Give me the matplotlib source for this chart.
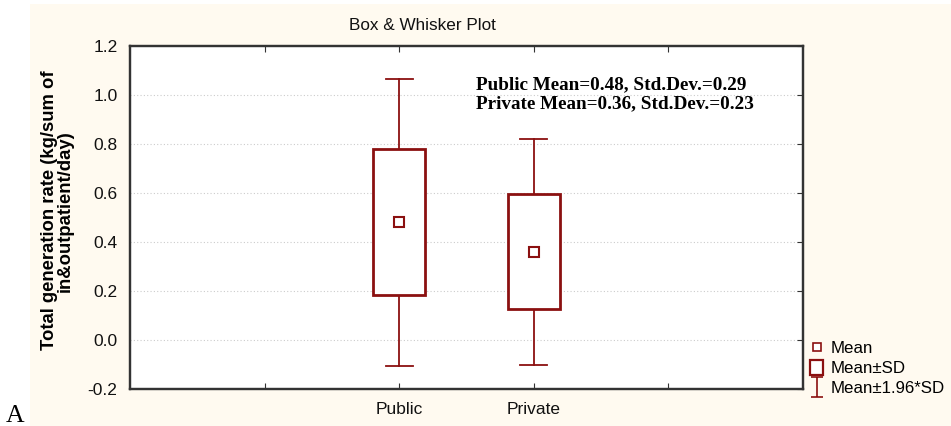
import matplotlib
matplotlib.use("Agg")
import matplotlib.pyplot as plt
from matplotlib.patches import Rectangle, Patch
from matplotlib.lines import Line2D
from matplotlib.path import Path

# data
groups = ["Public", "Private"]
means = [0.48, 0.36]
sd_low = [0.183, 0.125]
sd_high = [0.78, 0.596]
ci_low = [-0.105, -0.10]
ci_high = [1.065, 0.822]
stats_text = ["Public Mean=0.48, Std.Dev.=0.29",
              "Private Mean=0.36, Std.Dev.=0.23"]

red = "#8b1010"
cream = "#fffaf0"

plt.rcParams["font.family"] = ["Liberation Sans", "DejaVu Sans"]

fig = plt.figure(figsize=(9.51, 4.26), dpi=100, facecolor="white")
fig.add_artist(Rectangle((30 / 951, 0), 1, 1 - 4 / 426, transform=fig.transFigure,
                         facecolor=cream, edgecolor="none", zorder=-10))
ax = fig.add_axes([130 / 951, 1 - 389 / 426, 673 / 951, 343 / 426])
ax.set_facecolor("white")

pos = [2, 3]
box_w = 0.39
cap_w = 0.2
for x, m, lo, hi, wlo, whi in zip(pos, means, sd_low, sd_high, ci_low, ci_high):
    ax.plot([x, x], [hi, whi], color=red, lw=1.3, zorder=3)
    ax.plot([x, x], [wlo, lo], color=red, lw=1.3, zorder=3)
    ax.plot([x - cap_w / 2, x + cap_w / 2], [whi, whi], color=red, lw=1.3, zorder=3)
    ax.plot([x - cap_w / 2, x + cap_w / 2], [wlo, wlo], color=red, lw=1.3, zorder=3)
    ax.add_patch(Rectangle((x - box_w / 2, lo), box_w, hi - lo, facecolor="white",
                           edgecolor=red, lw=2, zorder=4))
    ax.plot([x], [m], marker="s", ms=6.5, mfc="white", mec=red, mew=1.5, ls="none", zorder=5)

ax.set_xlim(0, 5)
ax.set_ylim(-0.2, 1.2)
ax.set_yticks([-0.2, 0.0, 0.2, 0.4, 0.6, 0.8, 1.0, 1.2])
ax.set_yticklabels(["-0.2", "0.0", "0.2", "0.4", "0.6", "0.8", "1.0", "1.2"], fontsize=12.5)
ax.set_xticks([1, 2, 3, 4])
ax.set_xticklabels(["", groups[0], groups[1], ""], fontsize=12.5)
ax.tick_params(axis="x", direction="in", length=4, top=True, pad=9, colors="#333333",
               labelcolor="#111111")
ax.tick_params(axis="y", direction="in", length=0, right=False, pad=9, labelcolor="#111111")
for yv in [0.0, 0.2, 0.4, 0.6, 0.8, 1.0]:
    ax.axhline(yv, color="#cccccc", lw=0.8, ls=(0, (1, 2)), zorder=1)
# right spine ticks
axr = ax.twinx()
axr.set_ylim(ax.get_ylim())
axr.set_yticks(ax.get_yticks())
axr.set_yticklabels([])
axr.tick_params(axis="y", direction="in", length=4, colors="#333333")
for a in (ax, axr):
    for s in a.spines.values():
        s.set_color("#333333")
        s.set_linewidth(1.6)

ax.set_ylabel("Total generation rate (kg/sum of\nin&outpatient/day)", fontsize=13.3,
              fontweight="bold", linespacing=0.95)
ax.yaxis.set_label_coords(-56 / 673, 0.52)
fig.text(422 / 951, 1 - 25 / 426, "Box & Whisker Plot", ha="center", va="center",
         fontsize=12.3, color="#111111")

ax.text(0.514, 0.859, stats_text[0] + "\n" + stats_text[1], transform=ax.transAxes,
        family=["Liberation Serif", "DejaVu Serif"], fontweight="bold", fontsize=13.8,
        va="center", ha="left", linespacing=1.2, zorder=6)

ibar = Path([(-0.6, 1), (0.6, 1), (0, 1), (0, -1), (-0.6, -1), (0.6, -1)],
            [Path.MOVETO, Path.LINETO, Path.MOVETO, Path.LINETO, Path.MOVETO, Path.LINETO])
handles = [
    Line2D([], [], marker="s", ms=6, mfc="white", mec=red, mew=1.2, ls="none"),
    Patch(facecolor="white", edgecolor=red, lw=1.6),
    Line2D([], [], marker=ibar, ms=15, mec=red, mew=1.2, ls="none"),
]
fig.legend(handles, ["Mean", "Mean±SD", "Mean±1.96*SD"], loc="upper left",
           bbox_to_anchor=(798 / 951, 1 - 328 / 426), frameon=False, fontsize=12.2,
           handlelength=0.8, handleheight=1.0, handletextpad=0.4, labelspacing=0.22,
           borderpad=0.2)

fig.text(6 / 951, 1 - 422 / 426, "A", family=["Liberation Serif", "DejaVu Serif"],
         fontsize=18.5, va="baseline", ha="left")

fig.savefig("out.png", dpi=100, facecolor=fig.get_facecolor())
